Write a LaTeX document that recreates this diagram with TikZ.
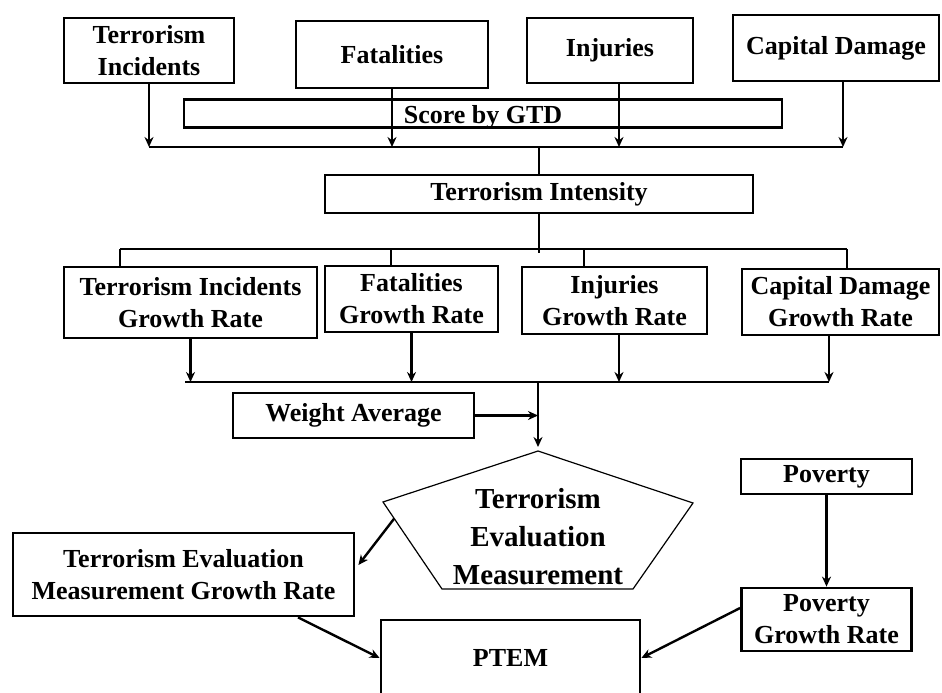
\documentclass[tikz,border=0pt]{standalone}
\usepackage{fontspec}
\setmainfont{Liberation Serif}
\usetikzlibrary{arrows.meta,calc}

\begin{document}
\begin{tikzpicture}[x=1pt, y=-1pt,
    box/.style = {draw, line width=2.8pt, align=center, inner sep=0pt, font=\bfseries\fontsize{26}{32}\selectfont},
    arr/.style = {-{Stealth[length=10pt,width=9pt]}, line width=2.4pt},
    bus/.style = {line width=2.4pt}]
  \useasboundingbox (0,0) rectangle (942,693);
  % top row
  \node[box, minimum width=170, minimum height=65] (ti) at (149,50.5) {Terrorism\\Incidents};
  \node[box, minimum width=192, minimum height=67] (fat) at (392,54.5) {Fatalities};
  \node[box, minimum width=166, minimum height=65] (inj) at (610,50.5) {Injuries};
  \node[box, minimum width=206, minimum height=66] (cap) at (836,48) {Capital Damage};
  \node[box, minimum width=598, minimum height=28, text height=20, text depth=0] (gtd) at (483,113.5) {Score by GTD};
  \coordinate (b1l) at (149,147);
  \coordinate (b1r) at (843,147);
  \draw[bus] (b1l) -- (b1r);
  \draw[arr] (ti.south) -- (b1l);
  \draw[arr] (fat.south) -- (fat.south |- b1l);
  \draw[arr] ([xshift=9]inj.south) -- ([xshift=9]inj.south |- b1l);
  \draw[arr] ([xshift=7]cap.south) -- (b1r);
  % intensity
  \node[box, minimum width=428, minimum height=38] (int) at (539,194) {Terrorism Intensity};
  \draw[bus] (int.north |- b1l) -- (int.north);
  \coordinate (b2l) at (120,249);
  \coordinate (b2r) at (847,249);
  \draw[bus] (int.south) -- ([yshift=-4]int.south |- b2l);
  \draw[bus] (b2l) -- (b2r);
  % growth rates
  \node[box, minimum width=253, minimum height=71] (tigr) at (190.5,302.5) {Terrorism Incidents\\Growth Rate};
  \node[box, minimum width=173, minimum height=66] (fgr) at (411.5,299) {Fatalities\\Growth Rate};
  \node[box, minimum width=185, minimum height=67] (igr) at (614.5,300.5) {Injuries\\Growth Rate};
  \node[box, minimum width=197, minimum height=66] (cdgr) at (840.5,302) {Capital Damage\\Growth Rate};
  \draw[bus] (b2l) -- (b2l |- tigr.north);
  \draw[bus] ([xshift=-20.5]fgr.north |- b2l) -- ([xshift=-20.5]fgr.north);
  \draw[bus] ([xshift=-30.5]igr.north |- b2l) -- ([xshift=-30.5]igr.north);
  \draw[bus] (b2r) -- (b2r |- cdgr.north);
  \coordinate (b3l) at (185,382);
  \coordinate (b3r) at (829,382);
  \draw[bus] (b3l) -- (b3r);
  \draw[arr] (tigr.south) -- (tigr.south |- b3l);
  \draw[arr] (fgr.south) -- (fgr.south |- b3l);
  \draw[arr] ([xshift=4.5]igr.south) -- ([xshift=4.5]igr.south |- b3l);
  \draw[arr] ([xshift=-11.5]cdgr.south) -- (b3r);
  % evaluation measurement
  \coordinate (pt) at (538,451);
  \coordinate (pr) at (693,503);
  \coordinate (pbr) at (633,589);
  \coordinate (pbl) at (442,589);
  \coordinate (pl) at (383,502);
  \draw[line width=1.2pt] (pt) -- (pr) -- (pbr) -- (pbl) -- (pl) -- cycle;
  \node[font=\bfseries\fontsize{29}{38}\selectfont, align=center] (tem) at (538,537) {Terrorism\\Evaluation\\Measurement};
  \node[box, minimum width=241, minimum height=45] (wa) at (353.5,415.5) {Weight Average};
  \draw[arr] (pt |- b3l) -- ([yshift=4]pt);
  \draw[arr] (wa.east) -- (pt |- wa.east);
  % bottom
  \node[box, minimum width=341, minimum height=83] (temgr) at (183.5,574.5) {Terrorism Evaluation\\Measurement Growth Rate};
  \node[box, minimum width=259, minimum height=76] (ptem) at (510.5,658) {PTEM};
  \node[box, minimum width=171, minimum height=35] (pov) at (826.5,476.5) {Poverty};
  \node[box, minimum width=170, minimum height=63] (pgr) at (826.5,619.5) {Poverty\\Growth Rate};
  \coordinate (pe) at ($(pl)!0.19!(pbl)$);
  \draw[arr] (pe) -- ([yshift=9.5,xshift=3]temgr.east);
  \draw[arr] ([xshift=114.5]temgr.south) -- (ptem.west);
  \draw[arr] (pov.south) -- (pgr.north);
  \draw[arr] ([yshift=11.5]pgr.west) -- (ptem.east);
\end{tikzpicture}
\end{document}
